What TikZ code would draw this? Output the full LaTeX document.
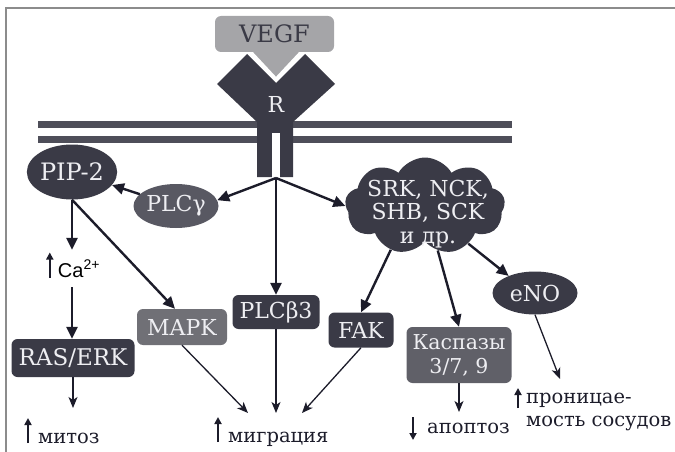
\documentclass[tikz,border=0pt]{standalone}
\usepackage{fontspec}
\setmainfont{DejaVu Serif}
\newfontfamily\casans{Liberation Sans}
\usetikzlibrary{arrows.meta,shapes.geometric,shapes.symbols}
\definecolor{angdark}{RGB}{58,58,70}
\definecolor{angmid}{RGB}{88,88,98}
\definecolor{anglight}{RGB}{112,112,118}
\definecolor{angkasp}{RGB}{96,96,104}
\definecolor{anggrey}{RGB}{165,165,168}
\definecolor{angline}{RGB}{28,28,42}
\definecolor{angtext}{RGB}{238,238,242}
\tikzset{
  ang box/.style={
    rectangle,rounded corners=6pt,fill=angdark,text=angtext,
    inner sep=0pt,font=\fontsize{22}{25}\selectfont
  },
  ang oval/.style={
    ellipse,fill=angdark,text=angtext,inner sep=0pt,
    font=\fontsize{22}{25}\selectfont
  },
  ang edge/.style={angline,line width=2.4pt,-{Triangle[length=12pt,width=11pt]}},
  ang thin/.style={angline,line width=1.3pt,-{Stealth[length=11pt,width=9pt,inset=3pt]}},
  ang up/.style={angline,line width=2.2pt,-{Triangle[length=7pt,width=7pt]}},
  ang out/.style={inner sep=0pt,text=angline,font=\fontsize{19.5}{23}\selectfont},
  ang membrane/.style={fill=angdark!90!white}
}

\begin{document}
\begin{tikzpicture}[x=1pt,y=-1pt]
  \useasboundingbox (0,0) rectangle (675,452);
  \draw[black!45,line width=1.2pt] (6,452) -- (6,8) -- (675,8);
  % membrane
  \fill[ang membrane] (38,121) rectangle (512,128);
  \fill[ang membrane] (38,136) rectangle (512,143);
  % receptor and ligand
  \fill[angdark] (217,84) -- (247,54) -- (276,83) -- (305,54) -- (335,84)
    -- (293,122) -- (293,177) -- (257,177) -- (257,122) -- cycle;
  \fill[white] (272,133) rectangle (280,177.5);
  \filldraw[fill=anggrey,draw=white,line width=1.6pt] (248,48) -- (276,78) -- (304,48);
  \node[ang box,fill=anggrey,text=angdark,minimum width=119pt,minimum height=36pt,
    font=\fontsize{24}{26}\selectfont] (vegf) at (274.5,34) {VEGF};
  \node[text=angtext,font=\fontsize{22}{25}\selectfont] (r) at (276,104) {R};
  \coordinate (stem) at (276,178);

  \node[ang oval,minimum width=75pt,minimum height=55pt,font=\fontsize{24}{26}\selectfont]
    (pip) at (72,172) {PIP-2};
  \node[ang oval,fill=angmid,minimum width=85pt,minimum height=44pt] (plcg) at (176,206) {PLCγ};
  \node[cloud,cloud puffs=9,cloud puff arc=120,aspect=1.65,fill=angdark,
    minimum width=160pt,minimum height=97pt,inner sep=0pt] (cl) at (425,206) {};
  \node[text=angtext,align=center,inner sep=0pt,font=\fontsize{22}{23.5}\selectfont]
    (cltext) at (428,214) {SRK, NCK,\\SHB, SCK\\и др.};
  \node[inner sep=0pt,minimum height=37pt,font=\casans\fontsize{20}{22}\selectfont]
    (ca) at (79,268.5) {Ca\textsuperscript{2+}};
  \node[ang box,minimum width=123pt,minimum height=38pt,font=\fontsize{23}{25}\selectfont]
    (ras) at (73,358) {RAS/ERK};
  \node[ang box,fill=anglight,minimum width=90pt,minimum height=36pt] (mapk) at (182,327) {MAPK};
  \node[ang box,minimum width=87pt,minimum height=34pt] (plcb) at (276,312) {PLCβ3};
  \node[ang box,minimum width=65pt,minimum height=35pt] (fak) at (361,330) {FAK};
  \node[ang box,fill=angkasp,minimum width=105pt,minimum height=56pt,align=center,
    font=\fontsize{20.5}{24}\selectfont] (kasp) at (459,355) {Каспазы\\3/7, 9};
  \node[ang oval,minimum width=85pt,minimum height=43pt] (eno) at (535,293) {eNO};

  % results
  \node[ang out,anchor=base west] (mitoz) at (38,443) {митоз};
  \node[ang out,anchor=base west] (migr) at (228,442) {миграция};
  \node[ang out,anchor=base west] (apop) at (427,433) {апоптоз};
  \node[ang out,anchor=north west,align=left] (perm) at (526,393) {проницае-\\мость сосудов};
  \coordinate (m tip) at (73,408);
  \coordinate (g1 tip) at (248,413);
  \coordinate (g2 tip) at (276,413);
  \coordinate (g3 tip) at (302,413);
  \coordinate (a tip) at (459,412);
  \coordinate (p tip) at (560,379);

  % signalling
  \draw[ang edge] (stem) -- (plcg.8);
  \draw[ang edge] (stem) -- (plcb);
  \draw[ang edge] (stem) -- (cl.west);
  \draw[ang edge] (plcg) -- (pip);
  \draw[ang edge] (pip.south) -- (pip.south |- ca.north);
  \draw[ang edge] (pip.south |- ca.south) -- (pip.south |- ras.north);
  \draw[ang edge] (pip.south) -- ([xshift=-7pt]mapk.north);
  \draw[ang edge] (cl.232) -- (fak.north);
  \draw[ang edge] (cl.286) -- (kasp.north);
  \draw[ang edge] (cl.319) -- (eno.147);

  \draw[ang thin] (ras.south) -- (m tip);
  \draw[ang thin] (mapk.south) -- (g1 tip);
  \draw[ang thin] (plcb.south) -- (g2 tip);
  \draw[ang thin] (fak.south) -- (g3 tip);
  \draw[ang thin] (kasp.south) -- (a tip);
  \draw[ang thin] (eno.south) -- (p tip);

  % up and down marks
  \draw[ang up] ([xshift=-8pt,yshift=-9pt]ca.west) -- ([xshift=-8pt,yshift=16pt]ca.west);
  \draw[ang up] ([xshift=-10pt]mitoz.base west) -- ([xshift=-10pt,yshift=25pt]mitoz.base west);
  \draw[ang up] ([xshift=-10pt]migr.base west) -- ([xshift=-10pt,yshift=25pt]migr.base west);
  \draw[ang up] ([xshift=-14pt,yshift=16pt]apop.base west) -- ([xshift=-14pt,yshift=-7pt]apop.base west);
  \draw[ang up] ([xshift=-8pt,yshift=-15pt]perm.north west) -- ([xshift=-8pt,yshift=5pt]perm.north west);
\end{tikzpicture}
\end{document}
